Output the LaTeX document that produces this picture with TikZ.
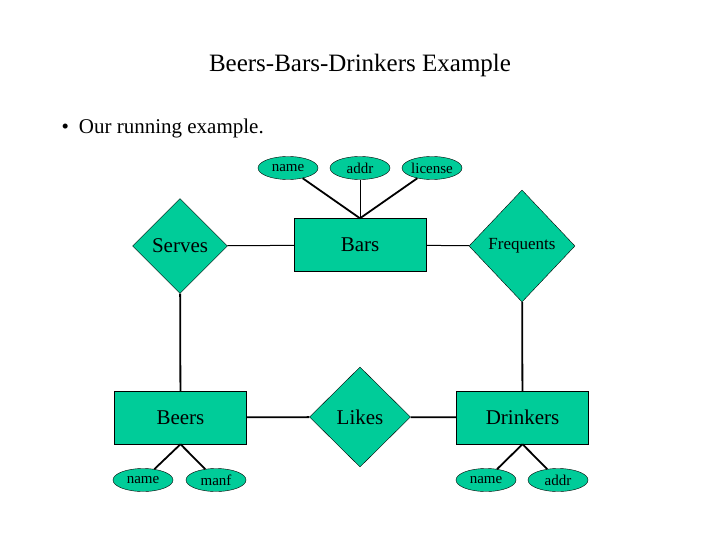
\documentclass[tikz,border=0pt]{standalone}
\usepackage{fontspec}
\setmainfont{Liberation Serif}
\usetikzlibrary{shapes.geometric}
\definecolor{er}{RGB}{0,204,153}
\begin{document}
\begin{tikzpicture}[x=1pt,y=-1pt,
  ent/.style={draw,fill=er,minimum width=132pt,minimum height=53pt,inner sep=0pt,font=\fontsize{21}{21}\selectfont},
  rel/.style={draw,fill=er,diamond,inner sep=0pt,aspect=1,font=\fontsize{21}{21}\selectfont},
  att/.style={draw,fill=er,ellipse,minimum width=60pt,minimum height=23pt,inner sep=0pt,font=\fontsize{15}{15}\selectfont},
  ln/.style={line width=1.8pt}]
\useasboundingbox (0,0) rectangle (720,540);
\node (title) at (360,65) {\fontsize{25}{25}\selectfont Beers-Bars-Drinkers Example};
\node[anchor=west] (bullet) at (58,128) {\fontsize{21}{21}\selectfont •\hspace{10pt}Our running example.};
\node[ent] (bars) at (360,245) {Bars};
\node[ent] (beers) at (180.5,417.5) {Beers};
\node[ent] (drinkers) at (522.5,417.5) {Drinkers};
\node[rel,minimum width=95pt,minimum height=95pt] (serves) at (180,246) {Serves};
\node[rel,minimum width=106pt,minimum height=112pt,font=\fontsize{17}{17}\selectfont] (freq) at (522,246) {Frequents};
\node[rel,minimum width=101pt,minimum height=100pt] (likes) at (360,417) {Likes};
\node[att] (bn) at (288,168) {name};
\node[att] (ba) at (360,168) {addr};
\node[att] (bl) at (432,168) {license};
\node[att] (en) at (143,480) {name};
\node[att] (em) at (216,480) {manf};
\node[att] (dn) at (486,480) {name};
\node[att] (da) at (558,480) {addr};
\draw[ln] (bn) -- (bars.north);
\draw[ln,line width=1pt] (ba) -- (bars.north);
\draw[ln] (bl) -- (bars.north);
\draw[ln,line width=1pt] (serves) -- (bars);
\draw[ln,line width=1pt] (bars) -- (freq);
\draw[ln] (serves) -- (beers);
\draw[ln] (freq) -- (drinkers);
\draw[ln] (beers) -- (likes);
\draw[ln] (likes) -- (drinkers);
\draw[ln] (beers.south) -- (en);
\draw[ln] (beers.south) -- (em);
\draw[ln] (drinkers.south) -- (dn);
\draw[ln] (drinkers.south) -- (da);
\end{tikzpicture}
\end{document}
